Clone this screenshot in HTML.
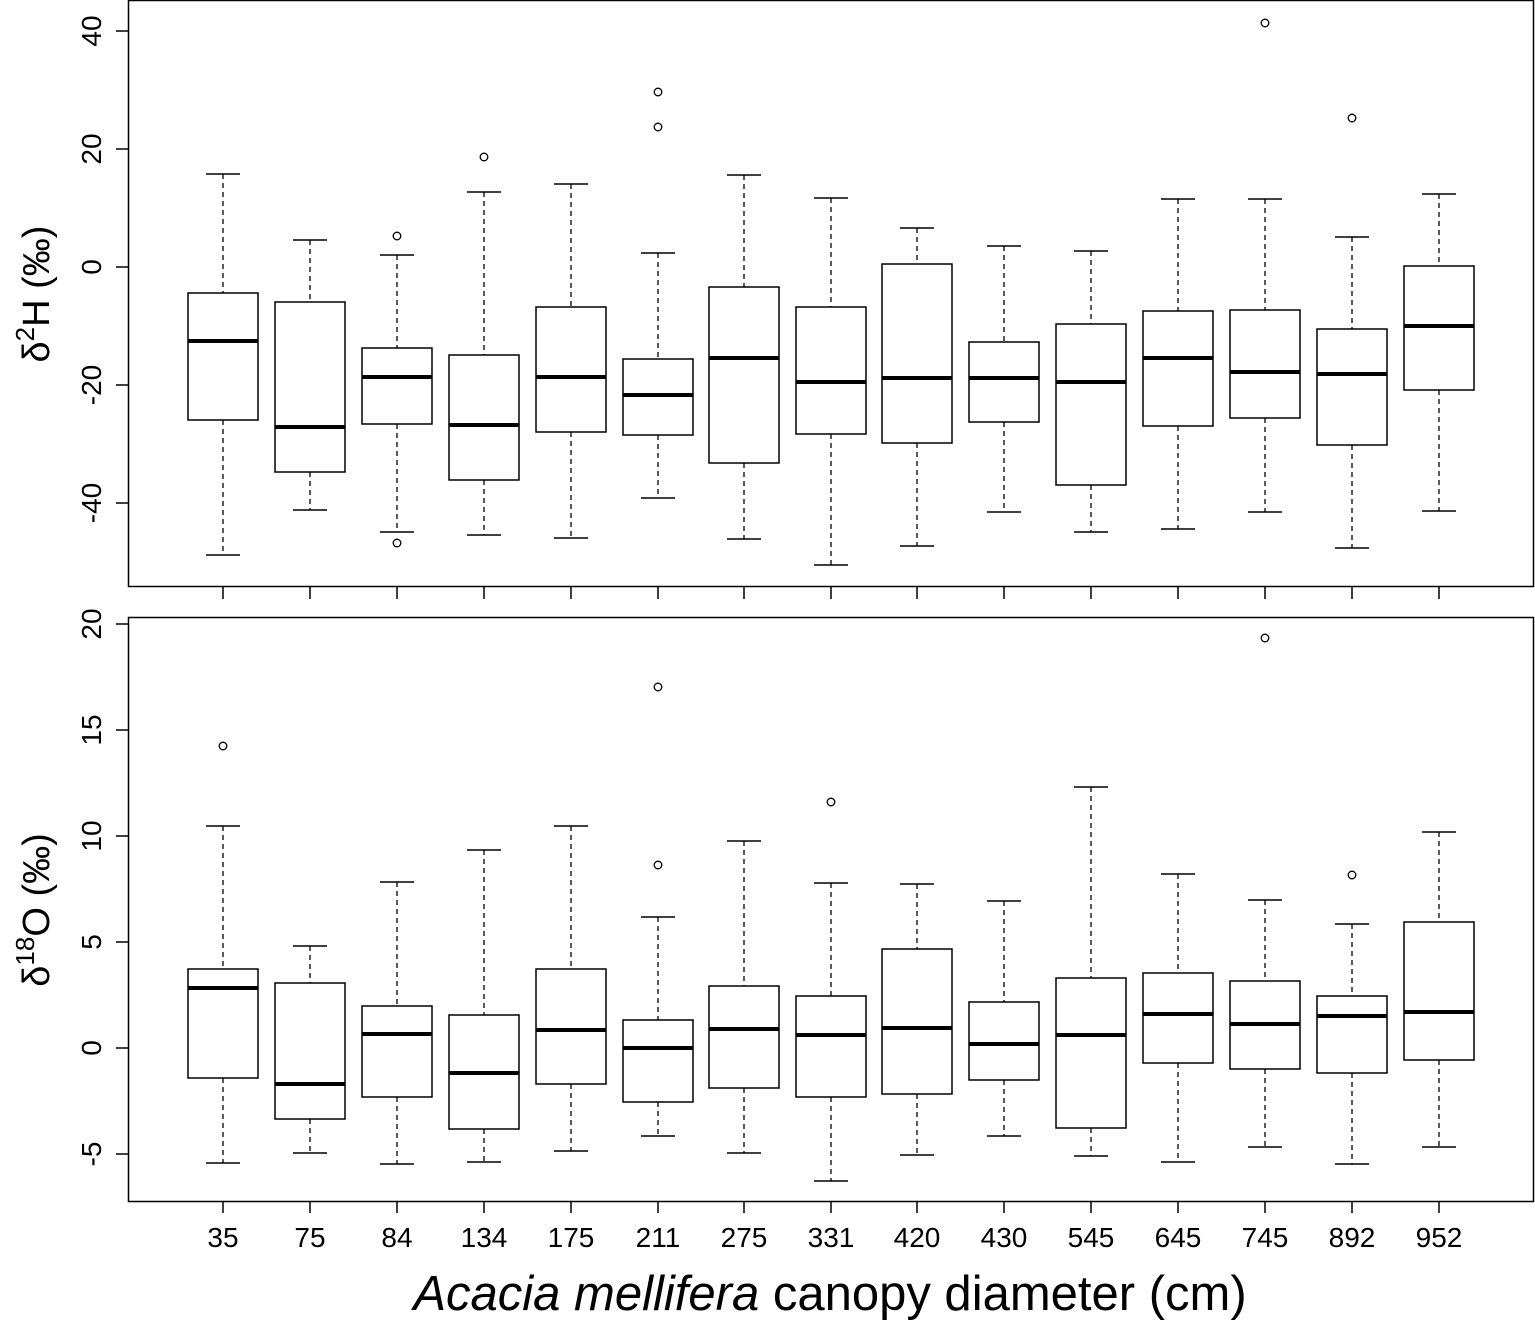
<!DOCTYPE html>
<html><head><meta charset="utf-8"><style>
html,body{margin:0;padding:0;background:#fff;}
svg{display:block;font-family:"Liberation Sans",Arial,sans-serif;}
</style></head><body>
<svg id="s" width="1535" height="1320" viewBox="0 0 1535 1320" xmlns="http://www.w3.org/2000/svg">
<rect x="128.5" y="0.5" width="1405" height="586" fill="none" stroke="#000" stroke-width="1.5"/>
<rect x="128.5" y="617.5" width="1405" height="584" fill="none" stroke="#000" stroke-width="1.5"/>
<g id="g"></g>
<text transform="translate(49,294) rotate(-90)" font-size="38" text-anchor="middle">δ<tspan dy="-15" font-size="26">2</tspan><tspan dy="15">H (‰)</tspan></text>
<text transform="translate(49,910) rotate(-90)" font-size="38" text-anchor="middle">δ<tspan dy="-15" font-size="26">18</tspan><tspan dy="15">O (‰)</tspan></text>
<text x="830" y="1310" font-size="49" text-anchor="middle"><tspan font-style="italic">Acacia mellifera</tspan> canopy diameter (cm)</text>
</svg>
<script>
var xs=[223,310,397,484,571,658,744,831,917,1004,1091,1178,1265,1352,1439];
var labs=[35,75,84,134,175,211,275,331,420,430,545,645,745,892,952];
var top_=[[174,293,341,420,555,[]],[240,302,427,472,510,[]],[255,348,377,424,532,[236,543]],[192,355,425,480,535,[157]],[184,307,377,432,538,[]],[253,359,395,435,498,[92,127]],[175,287,358,463,539,[]],[198,307,382,434,565,[]],[228,264,378,443,546,[]],[246,342,378,422,512,[]],[251,324,382,485,532,[]],[199,311,358,426,529,[]],[199,310,372,418,512,[23]],[237,329,374,445,548,[118]],[194,266,326,390,511,[]]];
var bot=[[826,969,988,1078,1163,[746]],[946,983,1084,1119,1153,[]],[882,1006,1034,1097,1164,[]],[850,1015,1073,1129,1162,[]],[826,969,1030,1084,1151,[]],[917,1020,1048,1102,1136,[687,865]],[841,986,1029,1088,1153,[]],[883,996,1035,1097,1181,[802]],[884,949,1028,1094,1155,[]],[901,1002,1044,1080,1136,[]],[787,978,1035,1128,1156,[]],[874,973,1014,1063,1162,[]],[900,981,1024,1069,1147,[638]],[924,996,1016,1073,1164,[875]],[832,922,1012,1060,1147,[]]];
var h='';
function box(x,d){
 h+='<line x1="'+x+'" x2="'+x+'" y1="'+d[0]+'" y2="'+d[1]+'" stroke="#000" stroke-width="1.3" stroke-dasharray="5,4"/>';
 h+='<line x1="'+x+'" x2="'+x+'" y1="'+d[3]+'" y2="'+d[4]+'" stroke="#000" stroke-width="1.3" stroke-dasharray="5,4"/>';
 h+='<line x1="'+(x-17)+'" x2="'+(x+17)+'" y1="'+d[0]+'" y2="'+d[0]+'" stroke="#000" stroke-width="1.5"/>';
 h+='<line x1="'+(x-17)+'" x2="'+(x+17)+'" y1="'+d[4]+'" y2="'+d[4]+'" stroke="#000" stroke-width="1.5"/>';
 h+='<rect x="'+(x-35)+'" y="'+d[1]+'" width="70" height="'+(d[3]-d[1])+'" fill="#fff" stroke="#000" stroke-width="1.5"/>';
 h+='<line x1="'+(x-35)+'" x2="'+(x+35)+'" y1="'+d[2]+'" y2="'+d[2]+'" stroke="#000" stroke-width="4"/>';
 d[5].forEach(function(o){h+='<circle cx="'+x+'" cy="'+o+'" r="3.8" fill="none" stroke="#000" stroke-width="1.3"/>';});
}
xs.forEach(function(x,i){box(x,top_[i]);box(x,bot[i]);
 h+='<line x1="'+x+'" x2="'+x+'" y1="587" y2="599" stroke="#000" stroke-width="1.5"/>';
 h+='<line x1="'+x+'" x2="'+x+'" y1="1201" y2="1213" stroke="#000" stroke-width="1.5"/>';
 h+='<text x="'+x+'" y="1247" font-size="28" text-anchor="middle">'+labs[i]+'</text>';});
[[40,31],[20,149],[0,267],[-20,385],[-40,503]].forEach(function(t){
 h+='<line x1="116" x2="128" y1="'+t[1]+'" y2="'+t[1]+'" stroke="#000" stroke-width="1.5"/>';
 h+='<text transform="translate(101,'+t[1]+') rotate(-90)" font-size="28" text-anchor="middle">'+t[0]+'</text>';});
[[20,624],[15,730],[10,836],[5,942],[0,1048],[-5,1154]].forEach(function(t){
 h+='<line x1="116" x2="128" y1="'+t[1]+'" y2="'+t[1]+'" stroke="#000" stroke-width="1.5"/>';
 h+='<text transform="translate(101,'+t[1]+') rotate(-90)" font-size="28" text-anchor="middle">'+t[0]+'</text>';});
document.getElementById('g').innerHTML=h;
</script>
</body></html>
